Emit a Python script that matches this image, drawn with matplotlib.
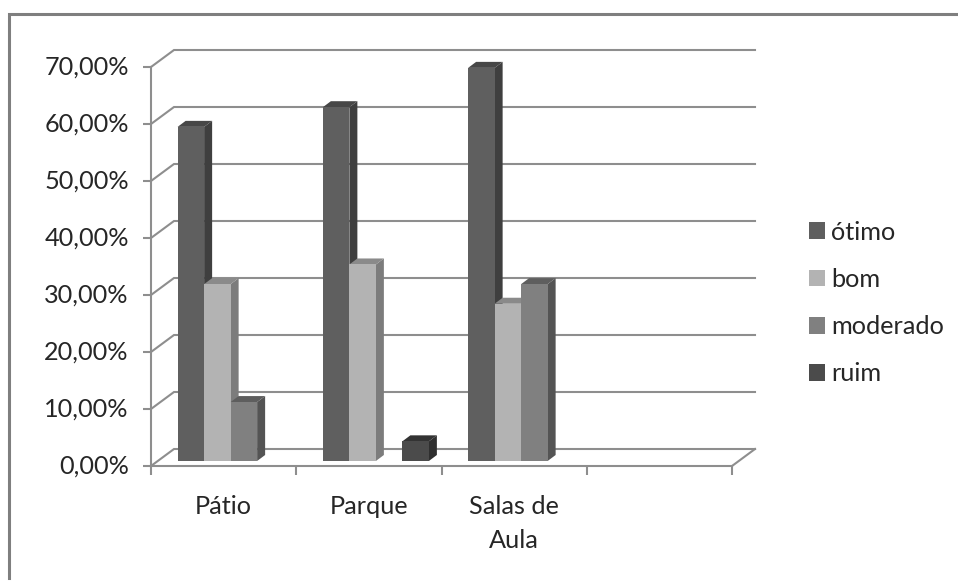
"""Grouped pseudo-3D bar chart of room ratings"""
import numpy as np
import matplotlib
matplotlib.use('Agg')
import matplotlib.pyplot as plt
from matplotlib.lines import Line2D
from matplotlib.patches import Patch
from matplotlib.transforms import ScaledTranslation

# Data
categories = ['Pátio', 'Parque', 'Salas de\nAula']
otimo = [58.62, 62.07, 68.97]
bom = [31.03, 34.48, 27.59]
moderado = [10.34, 0.0, 31.03]
ruim = [0.0, 3.45, 0.0]
series_names = ['ótimo', 'bom', 'moderado', 'ruim']
y_ticks = [0, 10, 20, 30, 40, 50, 60, 70]
y_tick_labels = ['0,00%', '10,00%', '20,00%', '30,00%', '40,00%', '50,00%', '60,00%', '70,00%']

# Face colours per series: front, side, top
front_colors = ['#5f5f5f', '#b3b3b3', '#808080', '#4b4b4b']
side_colors = ['#3f3f3f', '#7c7c7c', '#545454', '#2f2f2f']
top_colors = ['#474747', '#8a8a8a', '#5e5e5e', '#333333']
line_color = '#8e8e8e'
text_color = '#262626'
font_size = 18.2

plt.rcParams['font.family'] = ['Lato', 'DejaVu Sans']

W, H = 958, 582
fig = plt.figure(figsize=(W / 100, H / 100), dpi=100)
ax = fig.add_axes([151 / W, (H - 466) / H, 581 / W, 399 / H])
ax.set_xlim(0, 4)
ax.set_ylim(0, 70)

# Pixel sizes converted to data units
px_x = 4 / 581
px_y = 70 / 399
wall_dx, wall_dy = 23 * px_x, 17 * px_y
bar_dx, bar_dy = 8 * px_x, 6 * px_y
bar_w = 26.5 * px_x

# Back wall gridlines, with the slanted piece on the left
for v in y_ticks:
    ax.plot([0, wall_dx, 4 + wall_dx], [v, v + wall_dy, v + wall_dy],
            color=line_color, lw=1.5, clip_on=False, zorder=1, solid_joinstyle='miter')
ax.plot([4, 4 + wall_dx], [0, wall_dy], color=line_color, lw=1.5, clip_on=False, zorder=1)

# Bars: ax.bar for the front faces, fill for side and top
all_series = [otimo, bom, moderado, ruim]
for s, values in enumerate(all_series):
    for c, v in enumerate(values):
        if v == 0:
            continue
        left = c + 0.5 + bar_dx + (s - 2) * bar_w - 1 * px_x
        right = left + bar_w
        base = 5 * px_y
        top = base + v
        z = 3 + s
        ax.fill([right, right + bar_dx, right + bar_dx, right],
                [base, base + bar_dy, top + bar_dy, top],
                color=side_colors[s], lw=0, clip_on=False, zorder=z)
        ax.fill([left, left + bar_dx, right + bar_dx, right],
                [top, top + bar_dy, top + bar_dy, top],
                color=top_colors[s], lw=0, clip_on=False, zorder=z)
        ax.bar(left, v, width=bar_w, bottom=base, align='edge',
               color=front_colors[s], lw=0, clip_on=False, zorder=z)

# Axes
for side in ['top', 'right']:
    ax.spines[side].set_visible(False)
for side in ['left', 'bottom']:
    ax.spines[side].set_color(line_color)
    ax.spines[side].set_linewidth(1.5)
    ax.spines[side].set_zorder(2)

ax.set_yticks(y_ticks)
ax.set_yticklabels(y_tick_labels, fontsize=font_size, color=text_color)
ax.set_xticks([0, 1, 2, 3, 4])
ax.set_xticklabels([])
ax.set_xticks(np.arange(len(categories)) + 0.5, minor=True)
ax.set_xticklabels(categories, minor=True, fontsize=font_size, color=text_color, linespacing=1.55)
ax.tick_params(axis='y', length=6, width=1.5, color=line_color, pad=10)
ax.tick_params(axis='x', which='major', length=6.5, width=1.5, color=line_color)
ax.tick_params(axis='x', which='minor', length=0, pad=21)

# Nudge the value labels up a little
label_shift = ScaledTranslation(0, 2 / 100, fig.dpi_scale_trans)
for lab in ax.get_yticklabels():
    lab.set_transform(lab.get_transform() + label_shift)

# Legend
handles = [Patch(facecolor=front_colors[i], edgecolor='none', label=series_names[i]) for i in range(4)]
leg = fig.legend(handles=handles, loc='center left', bbox_to_anchor=(801 / W, (H - 303) / H),
                 frameon=False, fontsize=font_size, handlelength=0.63, handleheight=0.63,
                 handletextpad=0.27, labelspacing=0.96, borderpad=0.3, borderaxespad=0)
for t in leg.get_texts():
    t.set_color(text_color)

# Outer frame, open to the right and bottom
fig.add_artist(Line2D([8.5 / W, 8.5 / W, 1], [(H - 578) / H, (H - 13.5) / H, (H - 13.5) / H],
                      color='#7f7f7f', lw=2.2, solid_joinstyle='miter'))

fig.savefig('out.png', dpi=100)
